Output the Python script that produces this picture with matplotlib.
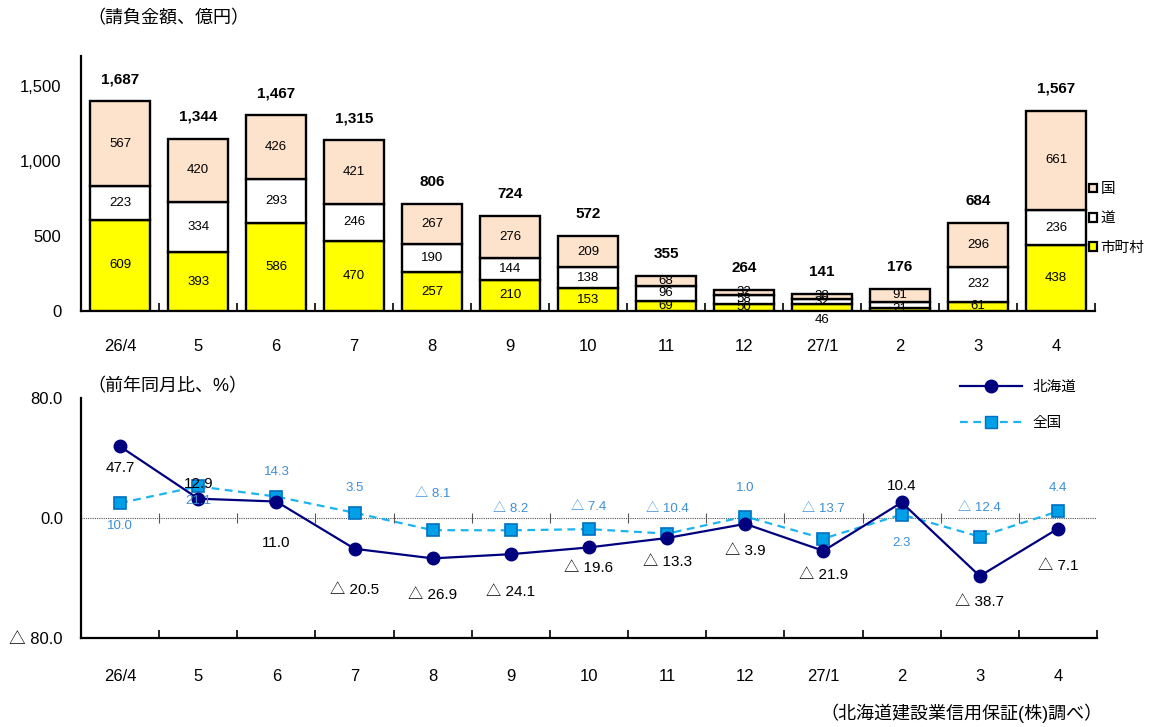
import matplotlib
matplotlib.use("Agg")
import matplotlib.pyplot as plt
import numpy as np
from matplotlib.lines import Line2D
from matplotlib.patches import Patch

plt.rcParams['font.family'] = ['Liberation Sans', 'Noto Sans CJK JP', 'DejaVu Sans']

# ---------------- data ----------------
categories = ["26/4", "5", "6", "7", "8", "9", "10", "11", "12", "27/1", "2", "3", "4"]
city = [609, 393, 586, 470, 257, 210, 153, 69, 50, 46, 21, 61, 438]      # 市町村
pref = [223, 334, 293, 246, 190, 144, 138, 96, 58, 32, 38, 232, 236]     # 道
nation = [567, 420, 426, 421, 267, 276, 209, 68, 32, 38, 91, 296, 661]   # 国
totals = ["1,687", "1,344", "1,467", "1,315", "806", "724", "572", "355", "264", "141", "176", "684", "1,567"]
seg_labels_city = ["609", "393", "586", "470", "257", "210", "153", "69", "50", "46", "21", "61", "438"]
seg_labels_pref = ["223", "334", "293", "246", "190", "144", "138", "96", "58", "32", "", "232", "236"]
seg_labels_nation = ["567", "420", "426", "421", "267", "276", "209", "68", "32", "38", "91", "296", "661"]

hokkaido_yoy = [47.7, 12.9, 11.0, -20.5, -26.9, -24.1, -19.6, -13.3, -3.9, -21.9, 10.4, -38.7, -7.1]
national_yoy = [10.0, 21.1, 14.3, 3.5, -8.1, -8.2, -7.4, -10.4, 1.0, -13.7, 2.3, -12.4, 4.4]

# label offsets (pixels, styling only)
hk_dy = [-22, 15, -41, -41, -37, -38, -21, -24, -27, -24, 16, -26, -37]
nt_dy = [-23, -15, 25, 25, 36, 21, 22, 25, 29, 30, -28, 29, 23]
city_dy = [0, 0, 0, 0, 0, 0, 0, 0, 0, -12, 0, 0, 0]

def fmt(v):
    return f"{v:.1f}" if v >= 0 else f"△ {abs(v):.1f}"

# ---------------- figure ----------------
fig = plt.figure(figsize=(11.54, 7.27), dpi=100)
ax1 = fig.add_axes([0.0702, 0.5722, 0.8788, 0.3508])
ax2 = fig.add_axes([0.0702, 0.1224, 0.8804, 0.3301])

x = np.arange(len(categories))
c_city = "#FFFF00"
c_pref = "#FFFFFF"
c_nat = "#FDE3CC"
w = 0.77
lw = 1.7
ax1.bar(x, city, w, color=c_city, edgecolor="black", linewidth=lw, zorder=3)
ax1.bar(x, pref, w, bottom=city, color=c_pref, edgecolor="black", linewidth=lw, zorder=3)
bot3 = np.array(city) + np.array(pref)
ax1.bar(x, nation, w, bottom=bot3, color=c_nat, edgecolor="black", linewidth=lw, zorder=3)

for i in range(len(x)):
    ax1.annotate(seg_labels_city[i], (x[i], city[i] / 2), xytext=(0, city_dy[i]),
                 textcoords="offset pixels", ha="center", va="center", fontsize=9.5, zorder=5)
    ax1.text(x[i], city[i] + pref[i] / 2, seg_labels_pref[i], ha="center", va="center", fontsize=9.5, zorder=5)
    ax1.text(x[i], bot3[i] + nation[i] / 2, seg_labels_nation[i], ha="center", va="center", fontsize=9.5, zorder=5)
    top = bot3[i] + nation[i]
    ax1.annotate(totals[i], (x[i], top), xytext=(0, 22), textcoords="offset pixels",
                 ha="center", va="center", fontsize=11, fontweight="bold")

ax1.set_xlim(-0.5, len(x) - 0.5)
ax1.set_ylim(0, 1700)
ax1.set_yticks([0, 500, 1000, 1500])
ax1.set_yticklabels(["0", "500", "1,000", "1,500"], fontsize=12)
ax1.tick_params(axis="y", length=0, pad=14)
ax1.set_xticks(x)
ax1.set_xticklabels(categories, fontsize=12)
ax1.tick_params(axis="x", length=0, pad=20)
ax1.set_xticks(np.arange(len(x) + 1) - 0.5, minor=True)
ax1.tick_params(axis="x", which="minor", direction="in", length=6, width=1.2)
for s in ["top", "right"]:
    ax1.spines[s].set_visible(False)
ax1.spines["left"].set_linewidth(1.6)
ax1.spines["bottom"].set_linewidth(1.6)

# legend for bars (right side)
handles = [Patch(facecolor=c_nat, edgecolor="black", linewidth=1.6),
           Patch(facecolor=c_pref, edgecolor="black", linewidth=1.6),
           Patch(facecolor=c_city, edgecolor="black", linewidth=1.6)]
ax1.legend(handles, ["国", "道", "市町村"], loc="upper left", bbox_to_anchor=(0.994, 0.505),
           frameon=False, fontsize=10.5, handlelength=0.55, handleheight=0.55,
           handletextpad=0.25, labelspacing=1.05, borderaxespad=0, borderpad=0)

fig.text(0.076, 0.975, "（請負金額、億円）", fontsize=13, va="center", ha="left")

# ---------------- bottom line chart ----------------
navy = "#00007F"
cyan = "#1AB4F0"
ax2.axhline(0, color="#555555", linewidth=0.8, linestyle=(0, (1, 1)), zorder=1)
ax2.vlines(np.arange(1, len(x)) - 0.5, -3.5, 3.5, color="#555555", linewidth=0.8, zorder=1)

ax2.plot(x, national_yoy, color=cyan, linestyle=(0, (3.5, 2.5)), linewidth=1.6,
         marker="s", markersize=8.5, markerfacecolor="#00A0E9", markeredgecolor="#0070C0",
         markeredgewidth=1.2, zorder=3, label="全国")
ax2.plot(x, hokkaido_yoy, color=navy, linewidth=1.6, marker="o", markersize=9,
         markerfacecolor=navy, markeredgecolor=navy, zorder=4, label="北海道")

for i in range(len(x)):
    ax2.annotate(fmt(hokkaido_yoy[i]), (x[i], hokkaido_yoy[i]), xytext=(0, hk_dy[i]),
                 textcoords="offset pixels", ha="center", va="center", fontsize=11, color="black", zorder=6)
    ax2.annotate(fmt(national_yoy[i]), (x[i], national_yoy[i]), xytext=(0, nt_dy[i]),
                 textcoords="offset pixels", ha="center", va="center", fontsize=9.5, color="#3D8ED6", zorder=6)

ax2.set_xlim(-0.5, len(x) - 0.5)
ax2.set_ylim(-80, 80)
ax2.set_yticks([-80, 0, 80])
ax2.set_yticklabels(["△ 80.0", "0.0", "80.0"], fontsize=12)
ax2.tick_params(axis="y", length=0, pad=13)
ax2.set_xticks(x)
ax2.set_xticklabels(categories, fontsize=12)
ax2.tick_params(axis="x", length=0, pad=22)
ax2.set_xticks(np.arange(len(x) + 1) - 0.5, minor=True)
ax2.tick_params(axis="x", which="minor", direction="in", length=6, width=1.2)
for s in ["top", "right"]:
    ax2.spines[s].set_visible(False)
ax2.spines["left"].set_linewidth(1.6)
ax2.spines["bottom"].set_linewidth(1.6)

lh = [Line2D([], [], color=navy, linewidth=1.6, marker="o", markersize=9, markerfacecolor=navy),
      Line2D([], [], color=cyan, linestyle=(0, (3.5, 2.5)), linewidth=1.6, marker="s", markersize=8.5,
             markerfacecolor="#00A0E9", markeredgecolor="#0070C0")]
fig.legend(lh, ["北海道", "全国"], loc="center left", bbox_to_anchor=(0.826, 0.443),
           frameon=False, fontsize=10.5, handlelength=4.2, labelspacing=1.55, handletextpad=0.7,
           borderpad=0)

fig.text(0.076, 0.468, "（前年同月比、%）", fontsize=13, va="center", ha="left")
fig.text(0.955, 0.019, "（北海道建設業信用保証(株)調べ）", fontsize=13, va="center", ha="right")

fig.savefig("out.png", dpi=100)
